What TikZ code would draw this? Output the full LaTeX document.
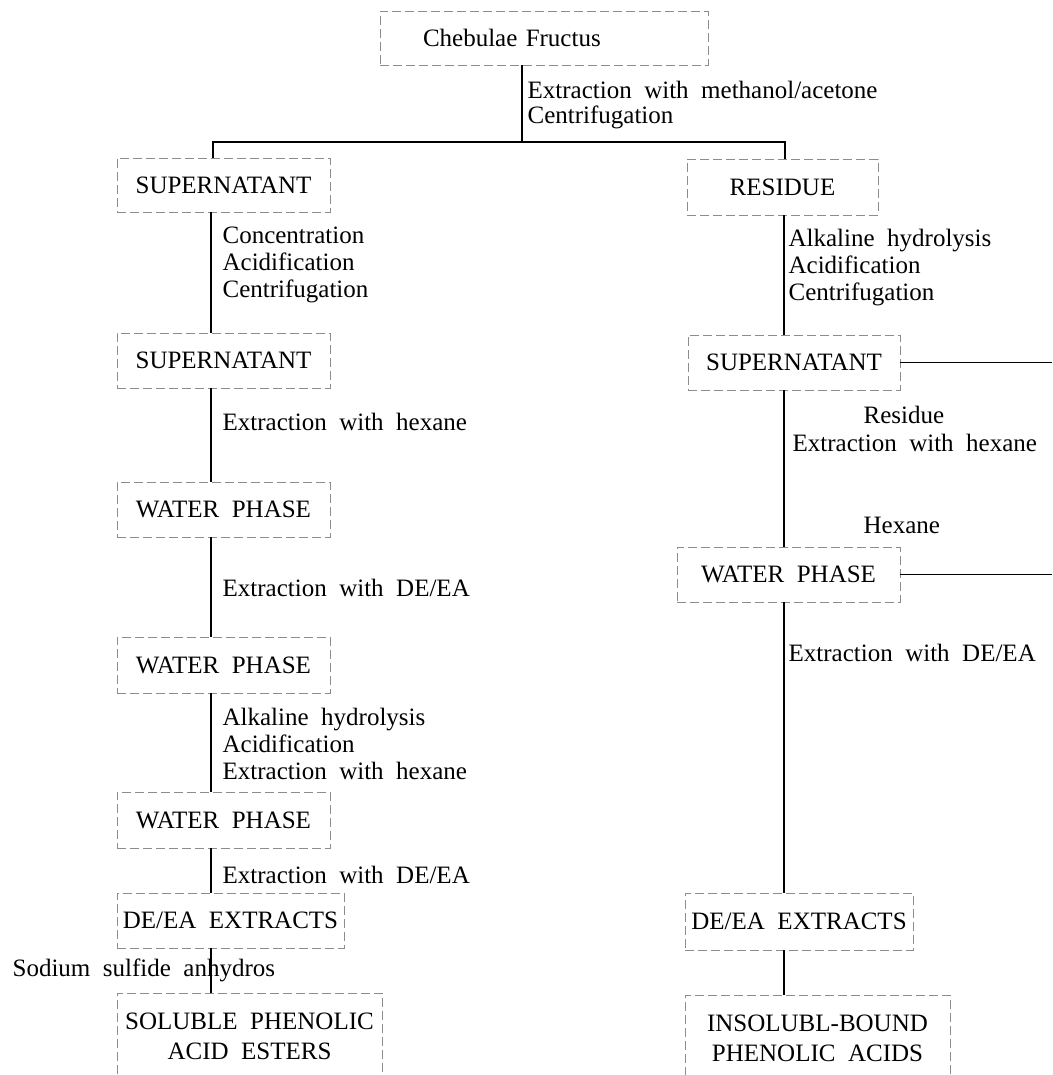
\documentclass[tikz,border=0pt]{standalone}
\usepackage{fontspec}
\setmainfont{Liberation Serif}[WordSpace=2]
\usepackage{tikz}

\begin{document}
\begin{tikzpicture}[x=1pt,y=-1pt,line width=1.2pt,
                    font=\fontsize{25}{27}\selectfont,
                    note/.style={anchor=west,align=left,inner sep=0pt}]

  \tikzstyle{phase}=[draw=black!45,line width=0.8pt,dash pattern=on 9pt off 4pt,
                     inner sep=2pt,align=center]

  \useasboundingbox (0,0) rectangle (1052,1075);
  \clip (0,0) rectangle (1052,1075);

  % boxes, left branch
  \node[phase, text width=242pt, inner xsep=43pt, minimum height=54pt, align=left]
    (CF) at (544,38) {Chebulae Fructus};
  \node[phase, minimum width=213pt, minimum height=54pt]
    (S1) at (223.5,185) {SUPERNATANT};
  \node[phase, minimum width=213pt, minimum height=55pt]
    (S2) at (223.5,360.5) {SUPERNATANT};
  \node[phase, minimum width=213pt, minimum height=55pt]
    (W1) at (223.5,509.5) {WATER PHASE};
  \node[phase, minimum width=213pt, minimum height=56pt]
    (W2) at (223.5,665) {WATER PHASE};
  \node[phase, minimum width=213pt, minimum height=56pt]
    (W3) at (223.5,820) {WATER PHASE};
  \node[phase, minimum width=227pt, minimum height=55pt]
    (E1) at (230.5,920.5) {DE/EA EXTRACTS};
  \node[phase, minimum width=265pt, minimum height=87pt,
        font=\fontsize{25}{30}\selectfont]
    (P1) at (249.5,1036.5) {SOLUBLE PHENOLIC\\ACID ESTERS};

  % boxes, right branch
  \node[phase, minimum width=191pt, minimum height=56pt]
    (R) at (782.5,187) {RESIDUE};
  \node[phase, minimum width=212pt, minimum height=55pt]
    (S3) at (794,362.5) {SUPERNATANT};
  \node[phase, minimum width=223pt, minimum height=55pt]
    (W4) at (788.5,574.5) {WATER PHASE};
  \node[phase, minimum width=228pt, minimum height=57pt]
    (E2) at (799,921.5) {DE/EA EXTRACTS};
  \node[phase, minimum width=265pt, minimum height=87pt,
        font=\fontsize{25}{30}\selectfont]
    (P2) at (817.5,1038.5) {INSOLUBL-BOUND\\PHENOLIC ACIDS};

  % step texts
  \node[note, font=\fontsize{25}{25}\selectfont]
    (n0) at (527,105.5) {Extraction with methanol/acetone\\Centrifugation};
  \node[note] (n1) at (222,265) {Concentration\\Acidification\\Centrifugation};
  \node[note] (n2) at (222,422) {Extraction with hexane};
  \node[note] (n3) at (222,588) {Extraction with DE/EA};
  \node[note] (n4) at (222,744) {Alkaline hydrolysis\\Acidification\\Extraction with hexane};
  \node[note] (n5) at (222,875) {Extraction with DE/EA};
  \node[note] (n6) at (12,970) {Sodium sulfide anhydros};
  \node[note] (n7) at (788,268) {Alkaline hydrolysis\\Acidification\\Centrifugation};
  \node[note] (n8) at (863,415) {Residue};
  \node[note] (n9) at (792,443) {Extraction with hexane};
  \node[note] (n10) at (863,525) {Hexane};
  \node[note] (n11) at (788,653) {Extraction with DE/EA};

  \coordinate (split) at (522,142);
  \coordinate (jL) at (213,142);
  \coordinate (jR) at (785,142);
  \coordinate (xL) at (211,0);
  \coordinate (xR) at (784,0);
  \coordinate (edge) at (1052,0);

  \draw (CF.south -| split) -- (split);
  \draw (S1.north -| jL) -- (jL) -- (jR) -- (R.north -| jR);

  \foreach \a/\b in {S1/S2,S2/W1,W1/W2,W2/W3,W3/E1,E1/P1}
    \draw (\a.south -| xL) -- (\b.north -| xL);
  \foreach \a/\b in {R/S3,S3/W4,W4/E2,E2/P2}
    \draw (\a.south -| xR) -- (\b.north -| xR);

  \draw (S3.east) -- (S3.east -| edge);
  \draw (W4.east) -- (W4.east -| edge);

\end{tikzpicture}
\end{document}
